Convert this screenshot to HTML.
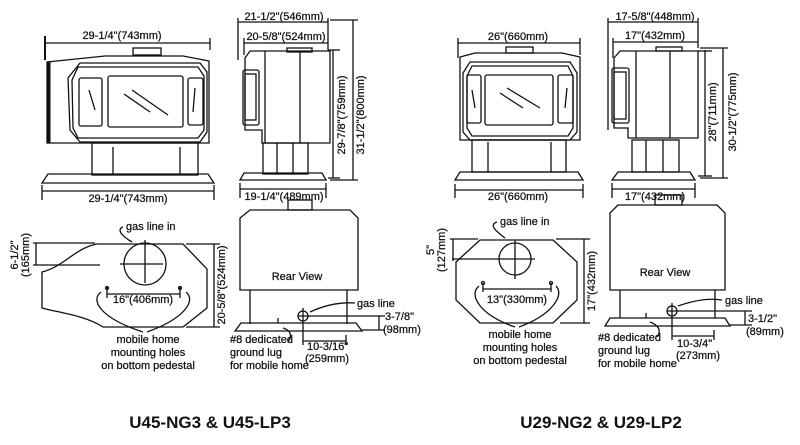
<!DOCTYPE html>
<html><head><meta charset="utf-8"><style>
html,body{margin:0;padding:0;background:#fff;width:800px;height:445px;overflow:hidden}
svg{display:block}
text{font-family:"Liberation Sans",Arial,sans-serif;font-size:11px;fill:#111;stroke:#111;stroke-width:0.25}
.t{font-size:17px;font-weight:bold;stroke-width:0}
</style></head><body>
<svg width="800" height="445" viewBox="0 0 800 445" xmlns="http://www.w3.org/2000/svg">
<g fill="none" stroke="#111" stroke-width="1.3">
<!-- LEFT FRONT -->
<line x1="45" y1="43" x2="210" y2="43"/><line x1="45" y1="36" x2="45" y2="60" stroke-width="2"/><line x1="210" y1="38" x2="210" y2="50"/>
<rect x="133" y="48" width="28" height="7"/>
<path d="M47 62 L105 56 L183 56 L209 61 L209 143 L47 143 Z"/>
<line x1="49" y1="62" x2="49" y2="143" stroke-width="3"/>
<path d="M80 63 L200 63 L207 72 L207 132 L200 142 L80 142 L70 130 L68 78 Z"/>
<path d="M78 67 L198 67 L204 76 L204 130 L198 138 L78 138 L73 128 L72 80 Z"/>
<rect x="79" y="78" width="23" height="48" rx="2"/><rect x="108" y="76" width="75" height="51" rx="2"/><rect x="188" y="78" width="15" height="47" rx="2"/>
<line x1="124" y1="94" x2="150" y2="112"/><line x1="132" y1="90" x2="168" y2="115"/><line x1="89" y1="90" x2="95" y2="110"/><line x1="195" y1="88" x2="193" y2="112"/>
<rect x="92" y="143" width="106" height="32"/><line x1="113" y1="147" x2="113" y2="175"/><line x1="180" y1="147" x2="180" y2="175"/>
<path d="M42 183 L48 174 L208 174 L214 183 Z"/>
<line x1="42" y1="191" x2="214" y2="191"/><line x1="42" y1="185" x2="42" y2="200"/><line x1="214" y1="185" x2="214" y2="200"/>
<!-- LEFT SIDE -->
<line x1="238" y1="22" x2="328" y2="22"/><line x1="238" y1="18" x2="238" y2="60"/><line x1="328" y1="18" x2="328" y2="50"/>
<line x1="244" y1="43" x2="328" y2="43"/><line x1="244" y1="38" x2="244" y2="55"/>
<path d="M245 58 L250 51 L330 51 L330 143 L262 143 L262 130 L245 130 Z"/>
<line x1="265" y1="51" x2="265" y2="143"/><line x1="300" y1="51" x2="300" y2="143"/>
<rect x="287" y="48" width="25" height="4"/>
<rect x="243" y="70" width="16" height="55" rx="2"/><rect x="245" y="74" width="11" height="46"/>
<rect x="263" y="143" width="45" height="31"/><line x1="277" y1="143" x2="277" y2="174"/><line x1="293" y1="143" x2="293" y2="174"/>
<path d="M240 180 L244 173 L322 173 L326 180 Z"/>
<line x1="240" y1="189" x2="326" y2="189"/><line x1="240" y1="183" x2="240" y2="198"/><line x1="326" y1="183" x2="326" y2="198"/>
<line x1="333" y1="50" x2="333" y2="178"/><line x1="328" y1="50" x2="340" y2="50"/><line x1="328" y1="178" x2="340" y2="178"/>
<line x1="353" y1="20" x2="353" y2="180"/><line x1="330" y1="20" x2="358" y2="20"/><line x1="330" y1="180" x2="358" y2="180"/>
<!-- LEFT PLAN -->
<path d="M97 244 L183 244 L207 269 L207 308 L183 327 L103 327 C85 315 55 312 42 308 L42 272 C65 266 75 248 97 244 Z"/>
<circle cx="145" cy="264" r="21"/><line x1="145" y1="240" x2="145" y2="283"/><line x1="120" y1="264" x2="163" y2="264"/>
<line x1="33" y1="243" x2="95" y2="243"/><line x1="33" y1="265" x2="100" y2="265"/><line x1="36" y1="243" x2="36" y2="265"/>
<line x1="186" y1="244" x2="220" y2="244"/><line x1="186" y1="327" x2="220" y2="327"/><line x1="214" y1="244" x2="214" y2="327"/>
<line x1="107" y1="294" x2="180" y2="294"/><line x1="107" y1="287" x2="107" y2="298"/><line x1="180" y1="287" x2="180" y2="298"/>
<circle cx="107" cy="288" r="1.5"/><circle cx="180" cy="288" r="1.5"/>
<path d="M101 292 C90 300 100 318 143 332"/><path d="M186 292 C196 300 186 318 147 332"/>
<path d="M123 227 C115 230 125 238 132 242"/>
<!-- LEFT REAR -->
<rect x="288" y="200" width="24" height="10"/>
<path d="M240 218 L250 210 L350 210 L358 218 L358 290 L240 290 Z"/>
<line x1="250" y1="290" x2="250" y2="324"/><line x1="347" y1="290" x2="347" y2="324"/>
<path d="M235 331 L241 323 L356 323 L362 331 Z"/>
<circle cx="303" cy="316" r="5"/><line x1="298" y1="316" x2="385" y2="316"/><line x1="303" y1="308" x2="303" y2="345"/>
<line x1="362" y1="330" x2="385" y2="330"/><line x1="379" y1="316" x2="379" y2="330"/>
<path d="M355 303 C340 302 325 305 310 312"/>
<line x1="278" y1="318" x2="278" y2="323"/><path d="M283 328 C290 330 293 335 288 342"/>
<line x1="346" y1="335" x2="346" y2="345"/><line x1="303" y1="341" x2="346" y2="341"/>
<!-- RIGHT FRONT -->
<line x1="458" y1="43" x2="580" y2="43"/><line x1="458" y1="38" x2="458" y2="58"/><line x1="580" y1="38" x2="580" y2="55"/>
<rect x="506" y="47" width="27" height="6"/>
<path d="M460 57 L475 53 L562 53 L580 57 L580 140 L460 140 Z"/>
<path d="M470 62 L570 62 L577 73 L577 132 L570 140 L470 140 L463 132 L463 73 Z"/>
<path d="M472 66 L568 66 L573 76 L573 128 L568 136 L472 136 L467 128 L467 76 Z"/>
<rect x="467" y="75" width="14" height="48" rx="2"/><rect x="485" y="75" width="68" height="50" rx="2"/><rect x="558" y="75" width="15" height="48" rx="2"/>
<line x1="500" y1="93" x2="523" y2="108"/><line x1="507" y1="88" x2="540" y2="108"/><line x1="472" y1="90" x2="475" y2="108"/><line x1="567" y1="88" x2="565" y2="108"/>
<rect x="472" y="140" width="94" height="32"/><line x1="488" y1="142" x2="488" y2="172"/><line x1="551" y1="142" x2="551" y2="172"/>
<path d="M455 180 L460 172 L578 172 L583 180 Z"/>
<line x1="455" y1="190" x2="583" y2="190"/><line x1="455" y1="184" x2="455" y2="198"/><line x1="583" y1="184" x2="583" y2="198"/>
<!-- RIGHT SIDE -->
<line x1="608" y1="22" x2="698" y2="22"/><line x1="608" y1="18" x2="608" y2="130"/><line x1="698" y1="18" x2="698" y2="48"/>
<line x1="613" y1="42" x2="698" y2="42"/><line x1="613" y1="38" x2="613" y2="58"/>
<path d="M614 58 L620 51 L698 51 L698 138 L628 138 L628 128 L614 128 Z"/>
<line x1="636" y1="51" x2="636" y2="138"/><line x1="670" y1="51" x2="670" y2="138"/>
<rect x="656" y="47" width="26" height="4"/><line x1="698" y1="51" x2="712" y2="51"/>
<rect x="612" y="68" width="17" height="55" rx="2"/><rect x="614" y="72" width="12" height="47"/>
<rect x="632" y="140" width="47" height="32"/><line x1="646" y1="140" x2="646" y2="172"/><line x1="663" y1="140" x2="663" y2="172"/>
<path d="M612 180 L618 172 L690 172 L695 180 Z"/>
<line x1="612" y1="189" x2="695" y2="189"/><line x1="612" y1="183" x2="612" y2="198"/><line x1="695" y1="183" x2="695" y2="198"/>
<line x1="705" y1="50" x2="705" y2="176"/><line x1="698" y1="176" x2="712" y2="176"/>
<line x1="723" y1="48" x2="723" y2="178"/><line x1="700" y1="48" x2="728" y2="48"/><line x1="700" y1="178" x2="728" y2="178"/>
<!-- RIGHT PLAN -->
<path d="M480 240 L553 240 L577 262 L577 300 L553 323 L480 323 L456 300 L456 262 Z"/>
<circle cx="515" cy="259" r="16"/><line x1="515" y1="240" x2="515" y2="279"/><line x1="452" y1="259" x2="535" y2="259"/>
<line x1="450" y1="239" x2="478" y2="239"/><line x1="453" y1="239" x2="453" y2="261"/>
<line x1="556" y1="239" x2="590" y2="239"/><line x1="560" y1="323" x2="590" y2="323"/><line x1="584" y1="239" x2="584" y2="323"/>
<line x1="483" y1="289" x2="551" y2="289"/><line x1="483" y1="283" x2="483" y2="292"/><line x1="551" y1="283" x2="551" y2="292"/>
<circle cx="483" cy="283" r="1.5"/><circle cx="551" cy="283" r="1.5"/>
<path d="M479 286 C468 295 480 315 515 327"/><path d="M556 286 C565 295 552 315 519 327"/>
<path d="M497 222 C488 225 497 232 505 238"/>
<!-- RIGHT REAR -->
<rect x="655" y="195" width="27" height="10"/>
<path d="M610 213 L618 205 L717 205 L725 213 L725 290 L610 290 Z"/>
<line x1="620" y1="290" x2="620" y2="318"/><line x1="715" y1="290" x2="715" y2="318"/>
<path d="M605 326 L610 318 L725 318 L730 326 Z"/>
<circle cx="672" cy="311" r="5"/><line x1="667" y1="311" x2="752" y2="311"/><line x1="672" y1="303" x2="672" y2="340"/>
<line x1="730" y1="325" x2="752" y2="325"/><line x1="745" y1="311" x2="745" y2="325"/>
<path d="M722 300 C710 298 695 300 678 306"/>
<line x1="646" y1="313" x2="646" y2="318"/><path d="M650 322 C658 325 662 330 657 337"/>
<line x1="714" y1="330" x2="714" y2="340"/><line x1="672" y1="336" x2="714" y2="336"/>
</g>
<!-- TEXT -->
<text x="122" y="39" text-anchor="middle">29-1/4"(743mm)</text>
<text x="128" y="202" text-anchor="middle">29-1/4"(743mm)</text>
<text x="284" y="20" text-anchor="middle">21-1/2"(546mm)</text>
<text x="286" y="40" text-anchor="middle">20-5/8"(524mm)</text>
<text x="284" y="200" text-anchor="middle">19-1/4"(489mm)</text>
<text transform="translate(345,115) rotate(-90)" text-anchor="middle">29-7/8"(759mm)</text>
<text transform="translate(364,115) rotate(-90)" text-anchor="middle">31-1/2"(800mm)</text>
<text x="126" y="230">gas line in</text>
<text transform="translate(18,255) rotate(-90)" text-anchor="middle">6-1/2"</text>
<text transform="translate(29,255) rotate(-90)" text-anchor="middle">(165mm)</text>
<text transform="translate(225,285) rotate(-90)" text-anchor="middle">20-5/8"(524mm)</text>
<text x="143" y="303" text-anchor="middle">16"(406mm)</text>
<text x="148" y="343" text-anchor="middle">mobile home</text>
<text x="148" y="356" text-anchor="middle">mounting holes</text>
<text x="148" y="369" text-anchor="middle">on bottom pedestal</text>
<text x="297" y="280" text-anchor="middle">Rear View</text>
<text x="357" y="307">gas line</text>
<text x="385" y="320">3-7/8"</text>
<text x="383" y="333">(98mm)</text>
<text x="230" y="343">#8 dedicated</text>
<text x="230" y="356">ground lug</text>
<text x="230" y="369">for mobile home</text>
<text x="307" y="350">10-3/16"</text>
<text x="305" y="362">(259mm)</text>
<text x="518" y="40" text-anchor="middle">26"(660mm)</text>
<text x="518" y="200" text-anchor="middle">26"(660mm)</text>
<text x="655" y="20" text-anchor="middle">17-5/8"(448mm)</text>
<text x="655" y="39" text-anchor="middle">17"(432mm)</text>
<text x="655" y="200" text-anchor="middle">17"(432mm)</text>
<text transform="translate(716,112) rotate(-90)" text-anchor="middle">28"(711mm)</text>
<text transform="translate(736,112) rotate(-90)" text-anchor="middle">30-1/2"(775mm)</text>
<text x="500" y="225">gas line in</text>
<text transform="translate(434,250) rotate(-90)" text-anchor="middle">5"</text>
<text transform="translate(445,250) rotate(-90)" text-anchor="middle">(127mm)</text>
<text transform="translate(595,281) rotate(-90)" text-anchor="middle">17"(432mm)</text>
<text x="517" y="303" text-anchor="middle">13"(330mm)</text>
<text x="520" y="338" text-anchor="middle">mobile home</text>
<text x="520" y="351" text-anchor="middle">mounting holes</text>
<text x="520" y="364" text-anchor="middle">on bottom pedestal</text>
<text x="665" y="276" text-anchor="middle">Rear View</text>
<text x="725" y="304">gas line</text>
<text x="748" y="322">3-1/2"</text>
<text x="746" y="335">(89mm)</text>
<text x="598" y="341">#8 dedicated</text>
<text x="598" y="354">ground lug</text>
<text x="598" y="367">for mobile home</text>
<text x="677" y="347">10-3/4"</text>
<text x="676" y="359">(273mm)</text>
<text class="t" x="210" y="428" text-anchor="middle">U45-NG3 &amp; U45-LP3</text>
<text class="t" x="601" y="428" text-anchor="middle">U29-NG2 &amp; U29-LP2</text>
</svg>
</body></html>
